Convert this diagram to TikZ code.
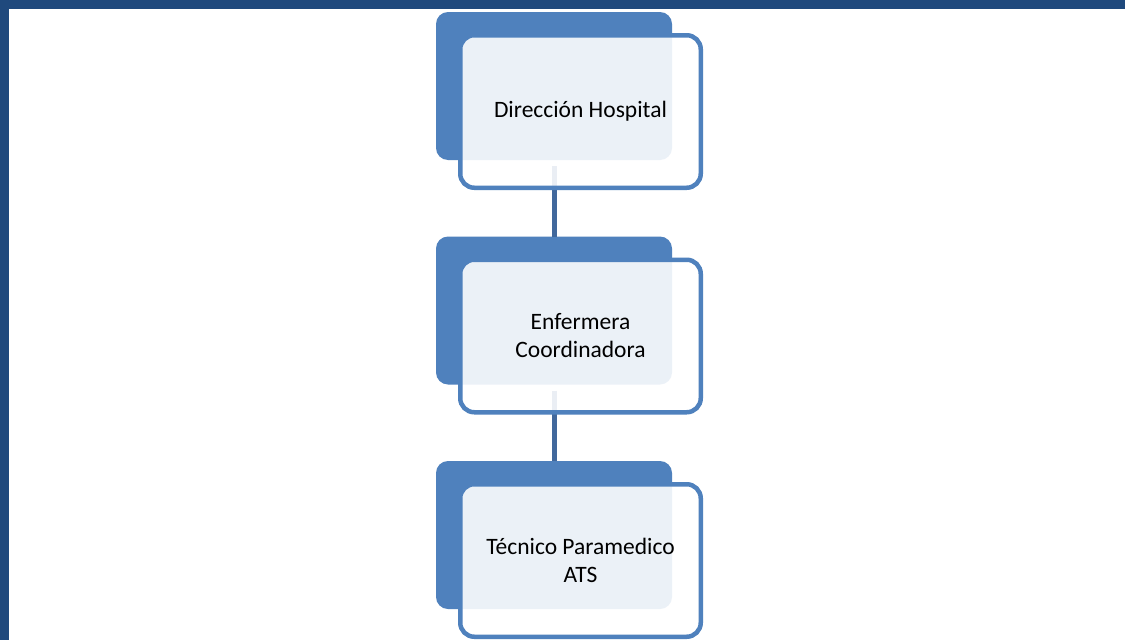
\documentclass[tikz,border=0pt]{standalone}
\usepackage{fontspec}
\setmainfont{Carlito}
\definecolor{frameblue}{HTML}{1F497D}
\definecolor{boxblue}{HTML}{4F81BD}
\definecolor{connblue}{HTML}{41689C}
\begin{document}
\begin{tikzpicture}[x=1pt,y=-1pt,
  fillbox/.style={draw=none, fill=boxblue, rounded corners=12pt, minimum width=236pt, minimum height=148pt, inner sep=0pt, outer sep=0pt},
  outbox/.style={draw=boxblue, line width=4.5pt, fill=white, fill opacity=0.89, text opacity=1, rounded corners=14pt, minimum width=240.5pt, minimum height=152.5pt, inner sep=0pt, outer sep=0pt, align=center, font=\fontsize{23.5}{28}\selectfont},
  conn/.style={draw=connblue, line width=5pt}]
\useasboundingbox (0,0) rectangle (1125,640);
\fill[white] (0,0) rectangle (1125,640);
\fill[frameblue] (0,0) rectangle (1125,9);
\fill[frameblue] (0,0) rectangle (9,640);
% filled back boxes
\node[fillbox] (b1) at (554,86) {};
\node[fillbox] (b2) at (554,310.5) {};
\node[fillbox] (b3) at (554,535) {};
% connectors
\draw[conn] ([yshift=-6pt]b1.south) -- (b2.north);
\draw[conn] ([yshift=-6pt]b2.south) -- (b3.north);
% front boxes
\node[outbox] (o1) at (580.5,111.5) {Dirección Hospital};
\node[outbox] (o2) at (580.5,336) {Enfermera\\Coordinadora};
\node[outbox] (o3) at (580.5,560.5) {Técnico Paramedico\\ATS};
\end{tikzpicture}
\end{document}
